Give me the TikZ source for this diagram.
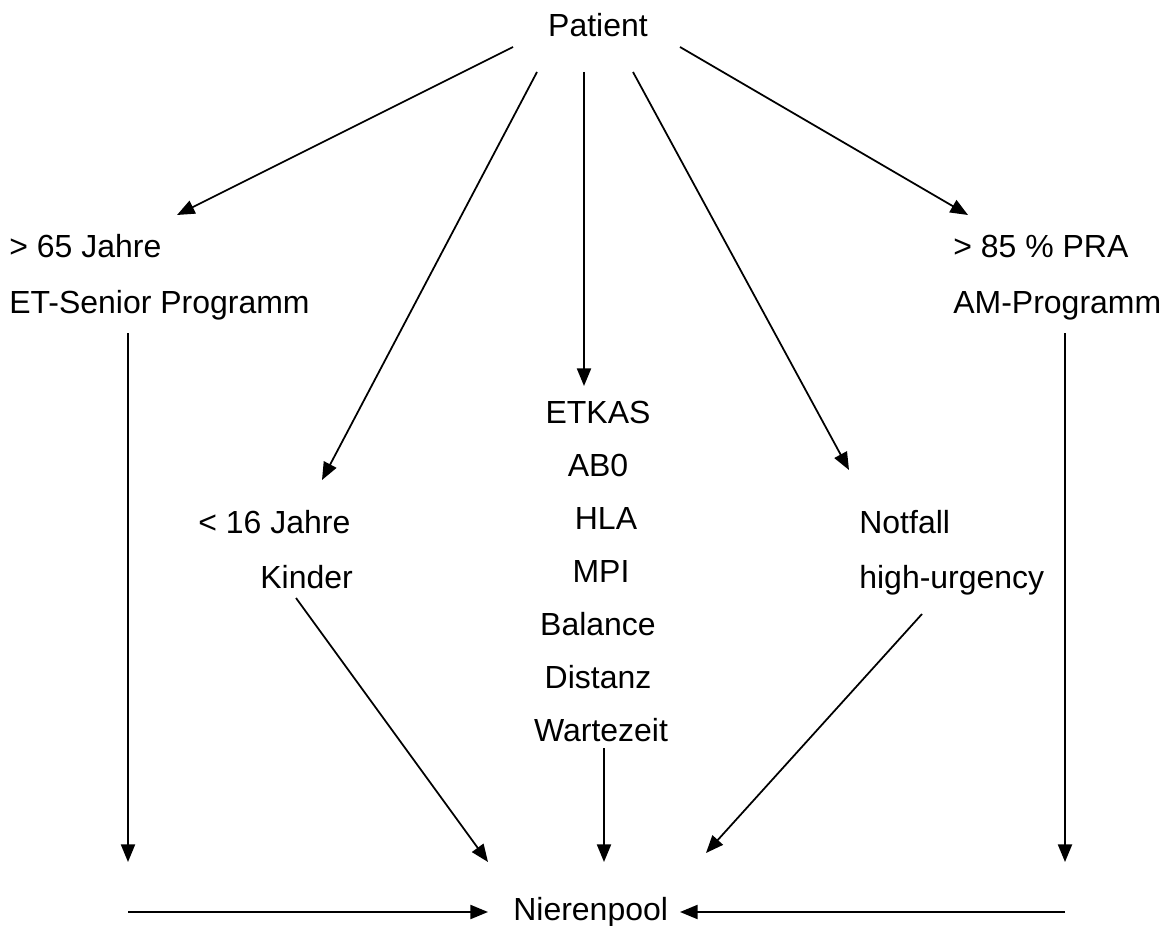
\documentclass[tikz,border=0pt]{standalone}
\usepackage{fontspec}
\setmainfont{Liberation Sans}
\usetikzlibrary{arrows.meta}

\begin{document}
\begin{tikzpicture}[x=0.02cm,y=-0.02cm,
    txt/.style={inner sep=0pt,anchor=base west,font=\fontsize{18.2}{21.8}\selectfont},
    mitte/.style={txt,anchor=base},
    pfeil/.style={-{Triangle[length=10pt,width=8pt]},line width=1pt}]
    \useasboundingbox (0,0) rectangle (1167,926);

    % Texte
    \node[mitte] (P) at (598,37) {Patient};
    \node[txt] (A65) at (9,257) {> 65 Jahre};
    \node[txt] (ETS) at (9,313) {ET-Senior Programm};
    \node[txt] (PRA) at (953,257) {> 85 \% PRA};
    \node[txt] (AMP) at (953,313) {AM-Programm};
    \node[txt] (J16) at (198,533) {< 16 Jahre};
    \node[txt] (KIN) at (260,588) {Kinder};
    \node[txt] (NOT) at (859,533) {Notfall};
    \node[txt] (HU) at (859,588) {high-urgency};
    \node[mitte] (ETK) at (598,423) {ETKAS};
    \node[mitte] (AB) at (598,476) {AB0};
    \node[mitte] (HLA) at (606,529) {HLA};
    \node[mitte] (MPI) at (601,582) {MPI};
    \node[mitte] (BAL) at (598,635) {Balance};
    \node[mitte] (DIS) at (598,688) {Distanz};
    \node[mitte] (WZ) at (601,741) {Wartezeit};
    \node[txt] (NP) at (513,920) {Nierenpool};

    % Pfeilenden
    \coordinate (p1) at (513,47);   \coordinate (a65) at (177,215);
    \coordinate (p2) at (537,72);   \coordinate (j16) at (322,480);
    \coordinate (p3) at (584,72);   \coordinate (etk) at (584,386);
    \coordinate (p4) at (633,72);   \coordinate (not) at (849,470);
    \coordinate (p5) at (680,47);   \coordinate (pra) at (968,215);
    \coordinate (ets) at (128,333); \coordinate (np1) at (128,862);
    \coordinate (amp) at (1065,333);\coordinate (np5) at (1065,862);
    \coordinate (kin) at (296,598); \coordinate (np2) at (488,862);
    \coordinate (wz) at (604,748);  \coordinate (np3) at (604,862);
    \coordinate (hu) at (922,614);  \coordinate (np4) at (706,853);
    \coordinate (l1) at (128,912);  \coordinate (npl) at (488,912);
    \coordinate (r1) at (1065,912); \coordinate (npr) at (680,912);

    \draw[pfeil] (p1) -- (a65);
    \draw[pfeil] (p2) -- (j16);
    \draw[pfeil] (p3) -- (etk);
    \draw[pfeil] (p4) -- (not);
    \draw[pfeil] (p5) -- (pra);
    \draw[pfeil] (ets) -- (np1);
    \draw[pfeil] (amp) -- (np5);
    \draw[pfeil] (kin) -- (np2);
    \draw[pfeil] (wz) -- (np3);
    \draw[pfeil] (hu) -- (np4);
    \draw[pfeil] (l1) -- (npl);
    \draw[pfeil] (r1) -- (npr);
\end{tikzpicture}
\end{document}
